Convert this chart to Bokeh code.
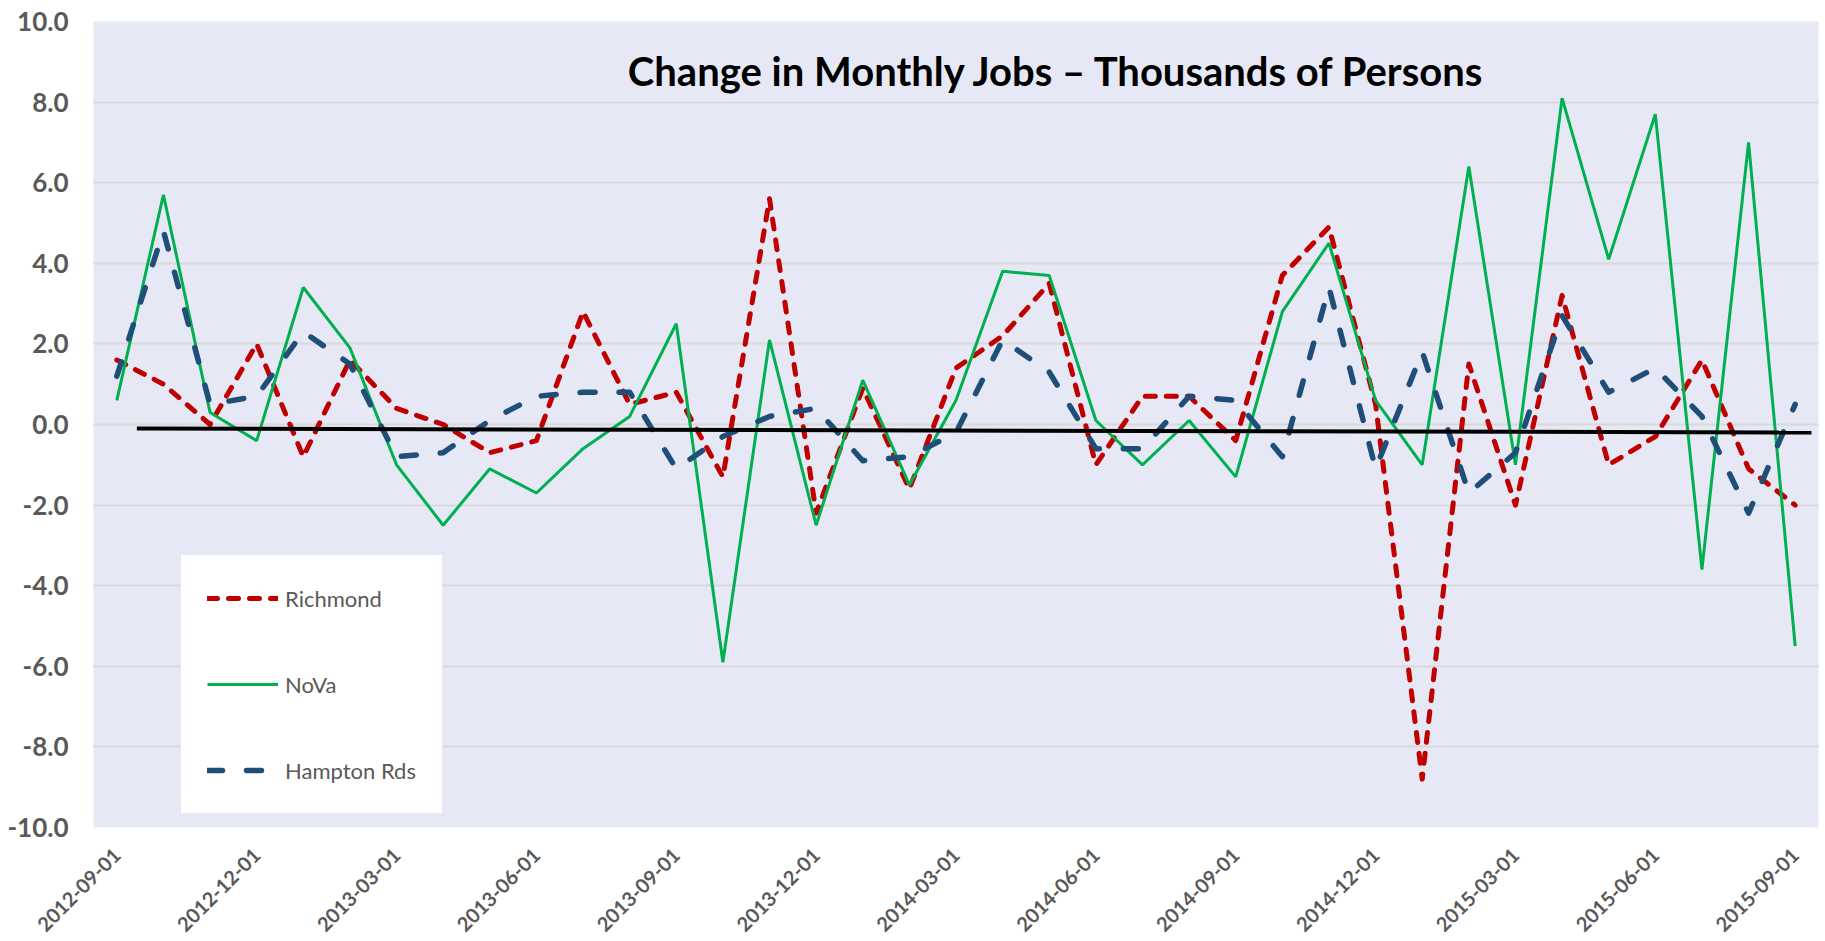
import math
import pandas as pd
from bokeh.plotting import figure
from bokeh.models import (ColumnDataSource, FixedTicker, NumeralTickFormatter, Legend,
                          LegendItem, Label, Range1d)
from bokeh.embed import file_html
from bokeh.resources import INLINE

# ---------------- data ----------------
months = [d.strftime("%Y-%m-%d") for d in pd.date_range("2012-09-01", "2015-09-01", freq="MS")]

richmond = [1.6, 1.0, 0.0, 2.0, -0.8, 1.6, 0.4, 0.0, -0.7, -0.4,
            2.8, 0.5, 0.8, -1.3, 5.6, -2.2, 0.9, -1.6, 1.4, 2.2,
            3.5, -1.0, 0.7, 0.7, -0.4, 3.7, 4.9, 0.5, -8.8, 1.5,
            -2.0, 3.2, -1.0, -0.3, 1.6, -1.1, -2.0]

nova = [0.6, 5.7, 0.3, -0.4, 3.4, 1.9, -1.0, -2.5, -1.1, -1.7,
        -0.6, 0.2, 2.5, -5.9, 2.1, -2.5, 1.1, -1.5, 0.6, 3.8,
        3.7, 0.1, -1.0, 0.1, -1.3, 2.8, 4.5, 0.6, -1.0, 6.4,
        -1.0, 8.1, 4.1, 7.7, -3.6, 7.0, -5.5]

hampton = [1.2, 4.8, 0.5, 0.7, 2.3, 1.5, -0.8, -0.7, 0.1, 0.7,
           0.8, 0.8, -1.1, -0.3, 0.2, 0.4, -0.9, -0.8, -0.2, 2.1,
           1.3, -0.6, -0.6, 0.7, 0.6, -0.8, 3.4, -1.1, 1.8, -1.7,
           -0.7, 2.7, 0.8, 1.4, 0.2, -2.2, 0.5]

# black reference (trend) line: start/end (month index, value)
trend_x = [0.43, 36.35]
trend_y = [-0.10, -0.20]

tick_idx = list(range(0, len(months), 3))
tick_labels = [months[i] for i in tick_idx]
y_ticks = [-10, -8, -6, -4, -2, 0, 2, 4, 6, 8, 10]

title_text = "Change in Monthly Jobs \u2013 Thousands of Persons"

# ---------------- figure ----------------
x = list(range(len(months)))
src = ColumnDataSource(dict(x=x, richmond=richmond, nova=nova, hampton=hampton))

p = figure(width=1825, height=941, output_backend="svg", toolbar_location=None,
           x_range=Range1d(-0.5, len(months) - 0.5), y_range=Range1d(-10, 10),
           min_border_left=93, min_border_right=7, min_border_top=21, min_border_bottom=112)

p.background_fill_color = "#E6E9F5"
p.border_fill_color = "white"
p.outline_line_color = None

# grid
p.xgrid.grid_line_color = None
p.ygrid.grid_line_color = "#D9D9D9"
p.ygrid.grid_line_width = 2
p.ygrid.ticker = FixedTicker(ticks=y_ticks)

# y axis
p.yaxis.ticker = FixedTicker(ticks=y_ticks)
p.yaxis.formatter = NumeralTickFormatter(format="0.0")
p.yaxis.axis_line_color = None
p.yaxis.major_tick_line_color = None
p.yaxis.minor_tick_line_color = None
p.yaxis.major_tick_out = 0
p.yaxis.major_tick_in = 0
p.yaxis.major_label_standoff = 25
p.yaxis.major_label_text_font = "Lato"
p.yaxis.major_label_text_font_style = "bold"
p.yaxis.major_label_text_font_size = "26px"
p.yaxis.major_label_text_color = "#595959"

# x axis
p.xaxis.ticker = FixedTicker(ticks=tick_idx)
p.xaxis.major_label_overrides = {i: lab for i, lab in zip(tick_idx, tick_labels)}
p.xaxis.axis_line_color = None
p.xaxis.major_tick_line_color = None
p.xaxis.minor_tick_line_color = None
p.xaxis.major_tick_out = 0
p.xaxis.major_tick_in = 0
p.xaxis.major_label_standoff = 24
p.xaxis.major_label_orientation = math.pi / 4
p.xaxis.major_label_text_font = "Lato"
p.xaxis.major_label_text_font_style = "bold"
p.xaxis.major_label_text_font_size = "20px"
p.xaxis.major_label_text_color = "#595959"

# series
r_rich = p.line("x", "richmond", source=src, line_color="#C00000", line_width=5,
                line_dash="10 11", line_cap="round", line_join="round")
r_nova = p.line("x", "nova", source=src, line_color="#00B050", line_width=3)
r_hamp = p.line("x", "hampton", source=src, line_color="#1F4E79", line_width=5.5,
                line_dash="15 24", line_cap="round", line_join="round")
p.line(trend_x, trend_y, line_color="black", line_width=4)

# title inside plot
p.add_layout(Label(x=20.17, y=8.76, text=title_text, text_align="center",
                   text_baseline="alphabetic", text_font="Lato", text_font_style="bold",
                   text_font_size="40px", text_color="black"))

legend = Legend(items=[LegendItem(label="Richmond", renderers=[r_rich]),
                       LegendItem(label="NoVa", renderers=[r_nova]),
                       LegendItem(label="Hampton Rds", renderers=[r_hamp])],
                location=(88, 14), orientation="vertical",
                glyph_width=71, glyph_height=34, label_height=34, label_standoff=7,
                spacing=52, padding=25, margin=0,
                label_text_font="Lato", label_text_font_size="22px",
                label_text_color="#595959",
                background_fill_color="white", background_fill_alpha=1.0,
                border_line_color="white", border_line_alpha=1.0, border_line_width=1)
p.add_layout(legend)

open("out.html", "w").write(file_html(p, INLINE))
